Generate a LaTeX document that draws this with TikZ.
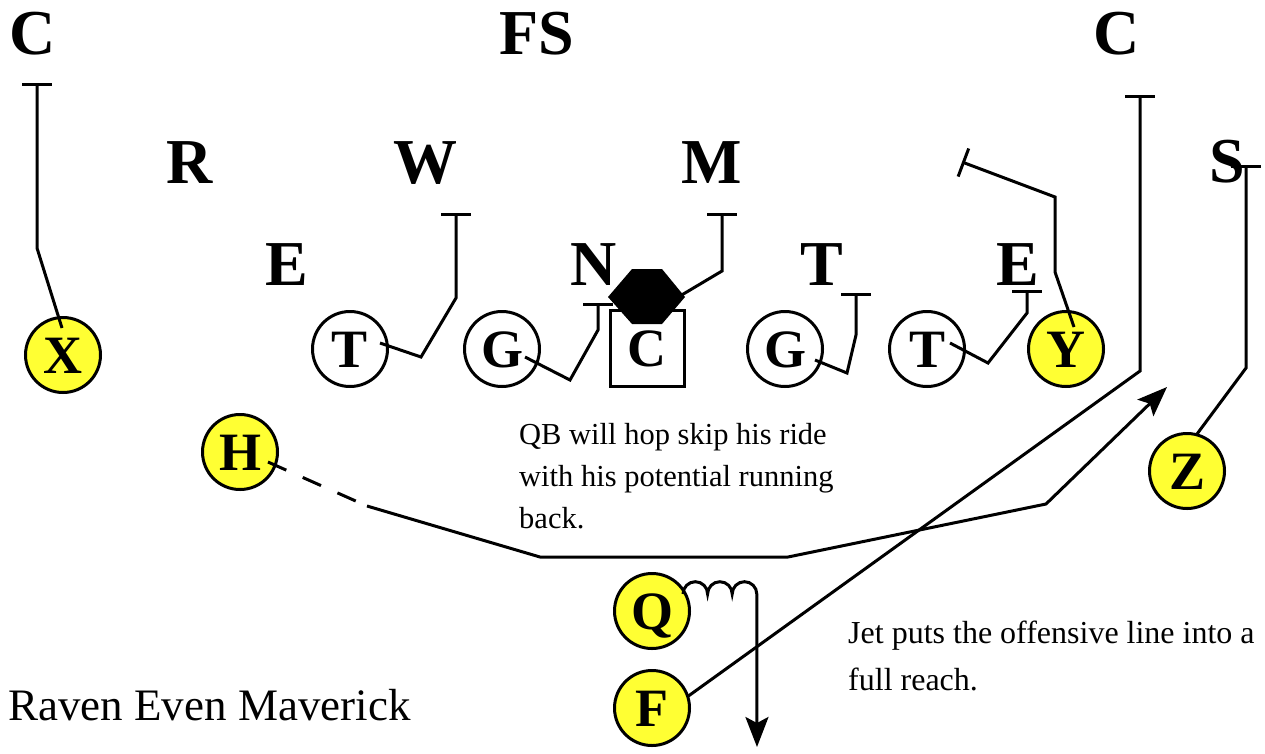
\documentclass[tikz,border=0pt]{standalone}
\usepackage{fontspec}
\setmainfont{Liberation Serif}
\usetikzlibrary{arrows.meta,calc}
\definecolor{skill}{HTML}{FFFF33}
\tikzset{
  defn/.style={font=\fontsize{64}{64}\selectfont\bfseries,anchor=base,inner sep=0pt},
  player/.style={circle,draw,line width=3pt,minimum size=75pt,inner sep=0pt,fill=white,
    text height=36pt,text depth=0pt,font=\fontsize{54}{54}\selectfont\bfseries},
  back/.style={player,fill=skill},
  snapbox/.style={player,rectangle,minimum width=74pt,minimum height=76pt},
  route/.style={line width=3pt},
  blk/.style={route,-{Bar[width=30pt]}},
  motion/.style={route,-{Stealth[length=30pt,width=23pt,inset=6pt]}},
  note/.style={align=left,inner sep=0pt,anchor=north west},
}
\begin{document}
\begin{tikzpicture}[x=1pt,y=-1pt]
  \useasboundingbox (0,0) rectangle (1265,753);
  % defense
  \node[defn] (cbl) at (33,54) {C};
  \node[defn] (fs) at (537,54) {FS};
  \node[defn] (cbr) at (1117,54) {C};
  \node[defn] (rov) at (190,183) {R};
  \node[defn] (wil) at (425,183) {W};
  \node[defn] (mik) at (712,183) {M};
  \node[defn] (ss) at (1227,182) {S};
  \node[defn] (el) at (287,285) {E};
  \node[defn] (nt) at (594,285) {N};
  \node[defn] (dt) at (822,285) {T};
  \node[defn] (er) at (1018,285) {E};
  % offense
  \node[back] (x) at (63,355) {X};
  \node[player] (tl) at (350,349) {T};
  \node[player] (gl) at (502,349) {G};
  \node[snapbox] (c) at (647,348) {C};
  \node[player] (gr) at (785,349) {G};
  \node[player] (tr) at (927,349) {T};
  \node[back] (y) at (1066,349) {Y};
  \node[back] (h) at (240,452) {H};
  \node[back] (z) at (1187,471) {Z};
  \node[back] (q) at (652,611) {Q};
  \node[back] (f) at (652,708) {F};
  % block points
  \coordinate (xb) at (37,83);
  \coordinate (tlb) at (456,213);
  \coordinate (glb) at (598,303);
  \coordinate (cb) at (722,213);
  \coordinate (grb) at (856,293);
  \coordinate (trb) at (1027,290);
  \coordinate (yb) at (962,162);
  \coordinate (fb) at (1140,95);
  \coordinate (zb) at (1246,165);
  \coordinate (hbrk) at (367,506);
  \coordinate (hend) at (1167,387);
  \coordinate (qend) at (757,747);
  \coordinate (nose) at (646,297);
  % routes
  \draw[blk] ($(x)+(-1,-27)$) -- ++(-25,-80) -- (xb);
  \draw[blk] ($(tl)+(30,-6)$) -- ++(41,14) -- ++(35,-59) -- (tlb);
  \draw[blk] ($(gl)+(23,8)$) -- ++(45,23) -- ++(28,-50) -- (glb);
  \draw[blk] ($(nose)+(34,-1)$) -- ++(42,-25) -- (cb);
  \draw[blk] ($(gr)+(30,11)$) -- ++(32,13) -- ++(9,-38) -- (grb);
  \draw[blk] ($(tr)+(23,-6)$) -- ++(38,20) -- ++(39,-50) -- (trb);
  \draw[blk] ($(y)+(8,-22)$) -- ++(-19,-55) -- ++(0,-75) -- (yb);
  \draw[blk] ($(f)+(35,-11)$) -- ++(453,-326) -- (fb);
  \draw[blk] ($(z)+(10,-37)$) -- ++(49,-66) -- (zb);
  \draw[route,dash pattern=on 20pt off 18pt] ($(h)+(28,10)$) -- (hbrk);
  \draw[motion] (hbrk) -- ++(173,51) -- ++(248,0) -- ++(258,-53) -- (hend);
  \draw[motion] ($(q)+(31,-17)$) arc[start angle=180,end angle=360,radius=12.3]
    arc[start angle=180,end angle=360,radius=12.3]
    arc[start angle=180,end angle=360,radius=12.3] -- (qend);
  % nose tackle
  \fill ($(nose)+(-38,0)$) -- ++(24,-28) -- ++(30,0) -- ++(23,28) -- ++(-23,27) -- ++(-30,0) -- cycle;
  % notes
  \node[note,font=\fontsize{30.5}{42}\selectfont] (qbnote) at (519,423) {QB will hop skip his ride\\with his potential running\\back.};
  \node[note,font=\fontsize{32}{47}\selectfont] (jetnote) at (848,621) {Jet puts the offensive line into a\\full reach.};
  \node[anchor=base west,inner sep=0pt,font=\fontsize{45}{45}\selectfont] (title) at (8,720) {Raven Even Maverick};
\end{tikzpicture}
\end{document}
